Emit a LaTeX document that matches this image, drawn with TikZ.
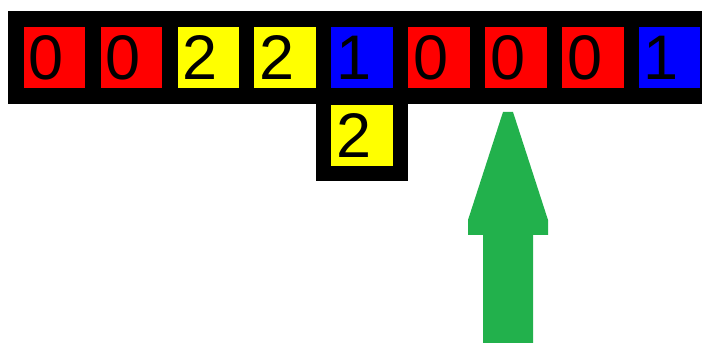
\documentclass[tikz,border=0pt]{standalone}
\usepackage{fontspec}
\setmainfont{Liberation Sans}
\usetikzlibrary{positioning,calc,backgrounds}
\definecolor{cellred}{HTML}{FF0000}
\definecolor{cellyellow}{HTML}{FFFF00}
\definecolor{cellblue}{HTML}{0000FF}
\definecolor{arrowgreen}{HTML}{22B14C}

\begin{document}
\begin{tikzpicture}[font=\fontsize{63pt}{63pt}\selectfont, node distance=15pt,
  cell/.style={minimum height=61.5pt, text width=51.5pt, inner xsep=5pt, inner ysep=0pt, align=left, text=black},
  zero/.style={cell, fill=cellred},
  one/.style={cell, fill=cellblue},
  two/.style={cell, fill=cellyellow}]
  \useasboundingbox (0,0) rectangle (702pt,-344pt);
  % top row
  \node[zero] (c1) at (54.5pt,-57.5pt) {0};
  \node[zero, right=of c1] (c2) {0};
  \node[two, right=of c2] (c3) {2};
  \node[two, right=of c3] (c4) {2};
  \node[one, right=of c4] (c5) {1};
  \node[zero, right=of c5] (c6) {0};
  \node[zero, right=of c6] (c7) {0};
  \node[zero, right=of c7] (c8) {0};
  \node[one, right=of c8] (c9) {1};
  % held value
  \node[two, below=16pt of c5] (d) {2};
  \begin{scope}[on background layer]
    \fill[black] ($(c1.north west)+(-16pt,16pt)$) rectangle ($(c9.south east)+(5pt,-16pt)$);
    \fill[black] ($(d.north west)+(-15pt,1pt)$) rectangle ($(d.south east)+(15pt,-15pt)$);
  \end{scope}
  % pointer
  \fill[arrowgreen] (503pt,-112pt) -- (513pt,-112pt) -- (548pt,-220pt) -- (548pt,-235pt)
    -- (533pt,-235pt) -- (533pt,-343pt) -- (483pt,-343pt) -- (483pt,-235pt)
    -- (468pt,-235pt) -- (468pt,-220pt) -- cycle;
\end{tikzpicture}
\end{document}
